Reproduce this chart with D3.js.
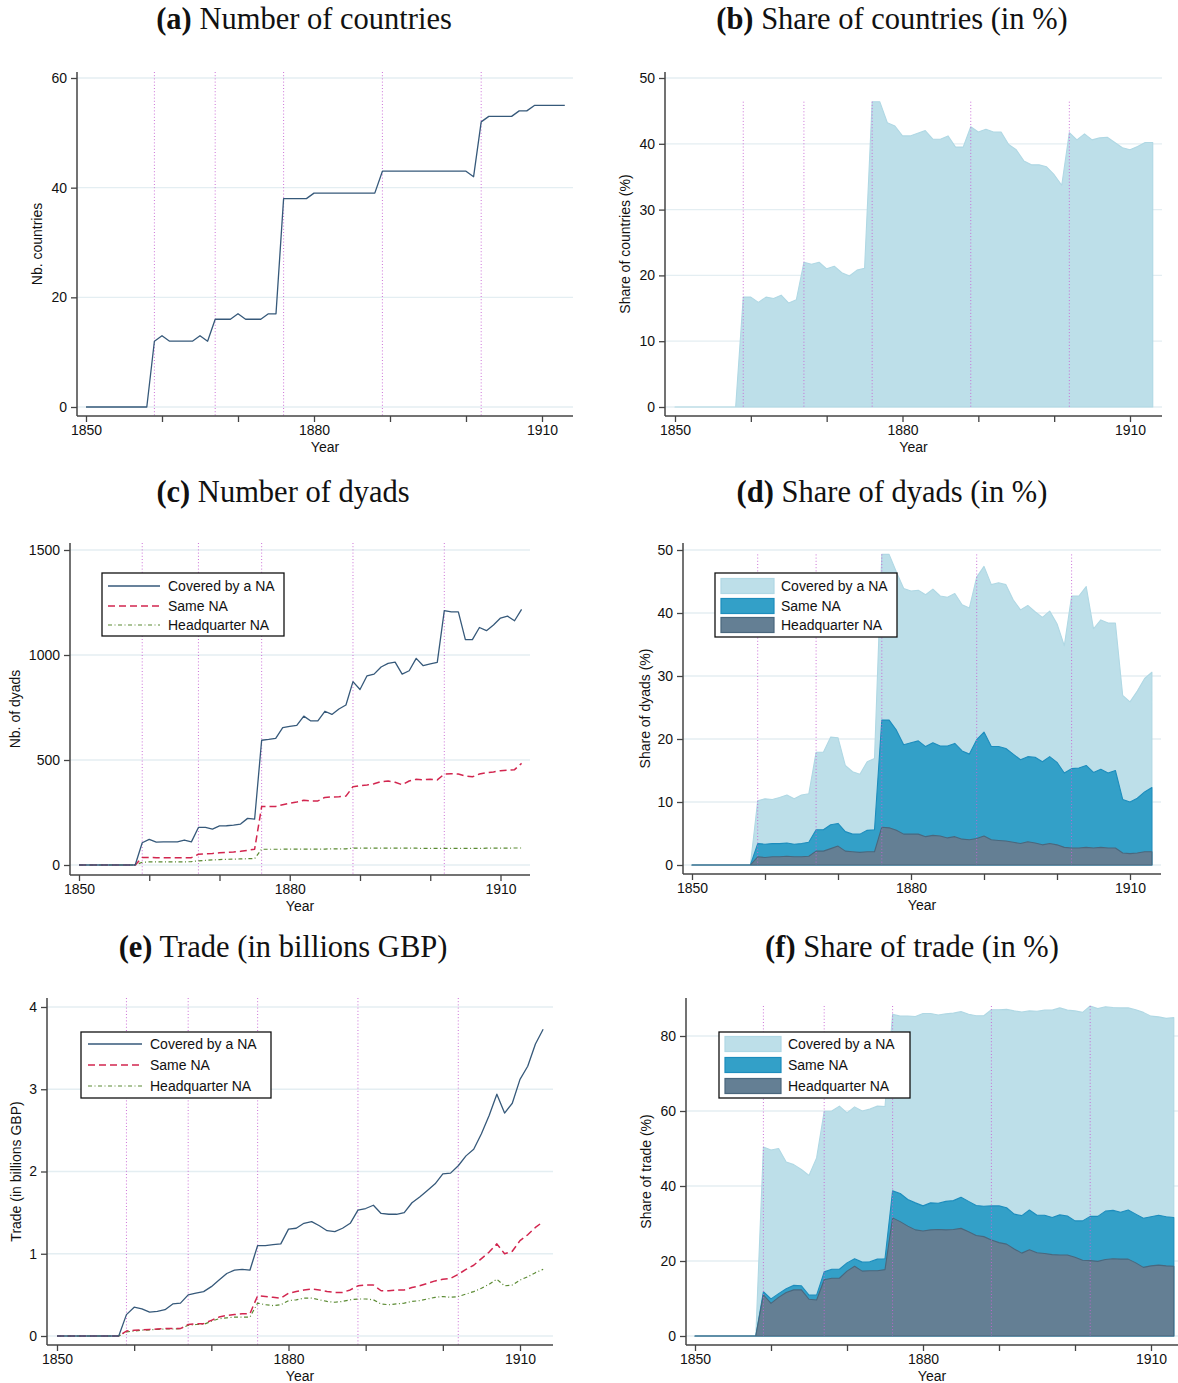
<!DOCTYPE html>
<html><head><meta charset="utf-8">
<script src="https://cdn.jsdelivr.net/npm/d3@7"></script>
<style>body{margin:0;background:#fff} svg{display:block}</style>
</head><body>
<svg id="chart" width="1178" height="1383"></svg>
<script>
// ---------------- DATA ----------------
const years = [1850,1851,1852,1853,1854,1855,1856,1857,1858,1859,1860,1861,1862,1863,1864,1865,1866,1867,1868,1869,1870,1871,1872,1873,1874,1875,1876,1877,1878,1879,1880,1881,1882,1883,1884,1885,1886,1887,1888,1889,1890,1891,1892,1893,1894,1895,1896,1897,1898,1899,1900,1901,1902,1903,1904,1905,1906,1907,1908,1909,1910,1911,1912,1913];
const eventYears = [1859, 1867, 1876, 1889, 1902];
const xTickYears = [1850, 1860, 1870, 1880, 1890, 1900, 1910];
const xTickLabels = [1850, 1880, 1910];
const seriesNames = ["Covered by a NA", "Same NA", "Headquarter NA"];

// (a) Number of countries
const nbCountries = [0,0,0,0,0,0,0,0,0, 12,13,12,12,12,12,13,12, 16,16,16,17,16,16,16,17,17, 38,38,38,38, 39,39,39,39,39,39,39,39,39, 43,43,43,43,43,43,43,43,43,43,43,43, 42, 52, 53,53,53,53, 54,54, 55,55,55,55,55];
// (b) Share of countries (%)
const shareCountries = [0,0,0,0,0,0,0,0,0, 16.7,16.7,15.9,16.7,16.5,17.0,15.8,16.3, 22.0,21.7,22.0,21.0,21.4,20.4,19.9,20.8,21.1, 46.4,46.4,43.2,42.7,41.2,41.2,41.6,42.0,40.7,40.7,41.2,39.5,39.5, 42.6,41.8,42.2,41.8,41.8,39.9,39.1,37.4,36.8,36.8,36.5,35.3,33.7, 41.7,40.6,41.5,40.6,40.9,41.0,40.2,39.4,39.1,39.6,40.2,40.2];
// (c) Number of dyads
const dyadsCovered = [0,0,0,0,0,0,0,0,0, 106,122,109,110,110,110,119,110, 179,179,171,186,187,190,195,222,218, 594,598,603,654,660,665,709,686,686,732,717,743,762, 873,836,901,909,943,960,966,909,925,984,949,958,965, 1211,1205,1205,1073,1073,1131,1116,1143,1176,1185,1163,1217];
const dyadsSame = [0,0,0,0,0,0,0,0,0, 36,36,35,35,35,35,35,35, 51,53,55,58,60,62,65,70,75, 278,278,279,287,294,300,308,305,305,322,324,325,328, 373,378,381,387,397,400,394,382,400,408,406,408,405, 433,435,433,424,420,433,440,443,449,452,454,484];
const dyadsHQ = [0,0,0,0,0,0,0,0,0, 13,15,15,15,15,15,15,16, 20,22,24,26,27,28,29,30,30, 75,75,75,75,76,76,76,76,76,76,77,77,77, 80,80,80,80,80,80,80,80,80,80,79,79,79, 79,79,79,79,79,79,80,80,80,80,81,81];
// (d) Share of dyads (%)
const shareDyadsCovered = [0,0,0,0,0,0,0,0,0, 10.2,10.5,10.4,10.7,11.1,10.5,11.1,11.3, 17.9,17.9,20.3,20.2,15.8,14.8,14.4,16.4,16.9, 49.3,49.3,46.5,43.9,43.5,43.6,42.9,43.8,42.7,42.5,43.1,41.3,40.8, 45.7,47.4,44.5,44.8,44.5,42.1,40.5,41.2,40.2,39.3,40.3,38.3,34.8, 42.7,42.7,44.2,37.5,38.9,38.4,38.4,26.9,25.9,27.6,29.6,30.6];
const shareDyadsSame = [0,0,0,0,0,0,0,0,0, 3.4,3.3,3.4,3.4,3.5,3.3,3.4,3.6, 5.6,5.6,6.4,6.6,5.3,4.9,4.9,5.5,5.6, 23.0,23.0,21.4,19.1,19.4,19.7,18.8,19.4,18.9,18.9,19.3,18.1,17.6, 19.9,21.1,18.8,18.8,18.5,17.6,16.7,17.2,17.1,16.4,17.2,16.3,14.6, 15.3,15.4,15.8,14.7,15.2,14.6,15.0,10.4,10.0,10.6,11.6,12.3];
const shareDyadsHQ = [0,0,0,0,0,0,0,0,0, 1.3,1.2,1.3,1.3,1.4,1.3,1.3,1.4, 2.2,2.2,2.6,3.0,2.2,2.1,2.0,2.1,2.1, 6.0,5.9,5.5,4.9,4.9,4.9,4.5,4.7,4.6,4.3,4.5,4.1,4.0, 4.2,4.6,4.0,3.9,3.8,3.6,3.4,3.7,3.5,3.2,3.4,3.2,2.8, 2.7,2.7,2.8,2.7,2.8,2.7,2.7,1.9,1.8,1.9,2.1,2.1];
// (e) Trade (billions GBP)
const tradeCovered = [0,0,0,0,0,0,0,0,0, 0.26,0.35,0.33,0.29,0.30,0.32,0.39,0.40, 0.50,0.52,0.54,0.60,0.68,0.76,0.80,0.81,0.80, 1.10,1.10,1.11,1.12,1.30,1.31,1.37,1.39,1.34,1.28,1.27,1.31,1.37, 1.53,1.55,1.59,1.49,1.48,1.48,1.50,1.62,1.69,1.77,1.85,1.97,1.98, 2.07,2.19,2.27,2.46,2.68,2.94,2.71,2.83,3.12,3.28,3.55,3.73];
const tradeSame = [0,0,0,0,0,0,0,0,0, 0.06,0.07,0.075,0.08,0.085,0.09,0.09,0.09, 0.14,0.15,0.15,0.19,0.23,0.25,0.26,0.27,0.27, 0.49,0.48,0.47,0.46,0.52,0.54,0.56,0.57,0.56,0.54,0.53,0.53,0.56, 0.61,0.62,0.62,0.55,0.55,0.56,0.56,0.59,0.61,0.64,0.67,0.69,0.70, 0.75,0.81,0.86,0.94,1.02,1.12,1.00,1.03,1.16,1.23,1.32,1.39];
const tradeHQ = [0,0,0,0,0,0,0,0,0, 0.05,0.06,0.07,0.075,0.08,0.085,0.085,0.09, 0.13,0.14,0.14,0.18,0.21,0.22,0.23,0.23,0.23, 0.40,0.38,0.37,0.38,0.43,0.44,0.46,0.46,0.44,0.42,0.41,0.42,0.44, 0.45,0.45,0.44,0.39,0.38,0.39,0.40,0.42,0.43,0.45,0.47,0.48,0.47, 0.48,0.51,0.54,0.58,0.63,0.69,0.61,0.62,0.68,0.72,0.77,0.81];
// (f) Share of trade (%)
const shareTradeCovered = [0,0,0,0,0,0,0,0,0, 50.4,49.6,50.0,46.4,45.7,44.4,42.8,47.5, 59.9,60.0,61.3,59.5,61.1,60.0,60.5,61.3,61.2, 85.8,85.3,85.3,85.2,86.0,86.0,85.6,85.9,86.1,86.5,85.8,85.4,85.4, 87.0,87.0,87.1,86.7,86.4,86.7,86.6,86.9,86.9,87.5,86.9,86.7,86.3, 88.0,87.3,87.8,87.6,87.5,87.5,87.0,86.3,85.3,85.1,84.7,84.9];
const shareTradeSame = [0,0,0,0,0,0,0,0,0, 11.8,9.9,11.3,12.6,13.5,13.4,10.9,10.9, 17.1,17.8,17.8,19.5,20.6,19.7,19.8,20.5,20.6, 38.7,38.0,36.4,35.5,34.7,35.5,35.4,35.9,36.1,37.0,35.9,34.8,34.6, 34.7,34.7,34.2,32.5,32.1,33.6,32.2,32.2,31.6,32.3,32.0,30.7,30.7, 31.9,31.9,33.3,33.5,33.0,33.6,32.5,31.4,31.8,32.2,31.8,31.6];
const shareTradeHQ = [0,0,0,0,0,0,0,0,0, 11.0,8.7,10.3,11.6,12.3,12.3,9.8,9.6, 15.0,15.4,15.4,17.3,18.6,17.3,17.4,17.4,17.7, 31.5,30.5,29.3,28.3,28.0,28.3,28.4,28.3,28.4,28.7,27.8,26.8,26.5, 25.6,24.9,24.5,23.2,22.1,23.0,22.2,22.0,21.7,21.6,21.6,21.0,20.2, 20.1,19.9,20.4,20.6,20.5,20.5,19.5,18.3,18.7,18.9,18.7,18.6];

// ---------------- STYLES ----------------
const SANS = "'Liberation Sans', Arial, Helvetica, sans-serif";
const SERIF = "'Liberation Serif', 'Times New Roman', serif";
const lineStyles = [
  {stroke: "#36597a", width: 1.3, dash: null},
  {stroke: "#d2264f", width: 1.5, dash: "7,4"},
  {stroke: "#5a8a32", width: 1.2, dash: "4,2.5,1,2.5"}
];
const areaStyles = [
  {fill: "#bddfe9", stroke: "#b0d8e4"},
  {fill: "#33a0c8", stroke: "#1d8dbd"},
  {fill: "#647f94", stroke: "#4a677d"}
];

const panels = [
  {title: ["(a)", " Number of countries"], tx: 304, ty: 29,
   box: {l: 77, r: 573, t: 72, b: 416}, xr: [86, 542], ydom: [0, 60], yr: [407, 78], yticks: [0, 20, 40, 60],
   ylabel: "Nb. countries", ylx: 37, type: "line", series: [nbCountries], legend: null},
  {title: ["(b)", " Share of countries (in %)"], tx: 892, ty: 29,
   box: {l: 665, r: 1162, t: 72, b: 416}, xr: [675, 1130], ydom: [0, 50], yr: [407, 78], yticks: [0, 10, 20, 30, 40, 50],
   ylabel: "Share of countries (%)", ylx: 625, type: "area", series: [shareCountries], legend: null},
  {title: ["(c)", " Number of dyads"], tx: 283, ty: 502,
   box: {l: 70, r: 530, t: 543, b: 875}, xr: [79, 500.5], ydom: [0, 1500], yr: [865, 550], yticks: [0, 500, 1000, 1500],
   ylabel: "Nb. of dyads", ylx: 15, type: "line", series: [dyadsCovered, dyadsSame, dyadsHQ],
   legend: {x: 102, y: 573, w: 182, h: 63, rows: [586, 606, 625], sx: 108, sw: 52, tx: 168}},
  {title: ["(d)", " Share of dyads (in %)"], tx: 892, ty: 502,
   box: {l: 683, r: 1161, t: 543, b: 874}, xr: [692, 1130], ydom: [0, 50], yr: [865, 550], yticks: [0, 10, 20, 30, 40, 50],
   ylabel: "Share of dyads (%)", ylx: 645, type: "area", series: [shareDyadsCovered, shareDyadsSame, shareDyadsHQ],
   legend: {x: 715, y: 573, w: 182, h: 64, rows: [586, 606, 625], sx: 721, sw: 53, tx: 781}},
  {title: ["(e)", " Trade (in billions GBP)"], tx: 283, ty: 957,
   box: {l: 47, r: 553, t: 998, b: 1345}, xr: [57, 520], ydom: [0, 4], yr: [1336, 1007], yticks: [0, 1, 2, 3, 4],
   ylabel: "Trade (in billions GBP)", ylx: 16, type: "line", series: [tradeCovered, tradeSame, tradeHQ],
   legend: {x: 81, y: 1032, w: 190, h: 66, rows: [1044, 1065, 1086], sx: 88, sw: 54, tx: 150}},
  {title: ["(f)", " Share of trade (in %)"], tx: 912, ty: 957,
   box: {l: 686, r: 1178, t: 998, b: 1345}, xr: [695, 1151], ydom: [0, 80], yr: [1336, 1036], yticks: [0, 20, 40, 60, 80],
   ylabel: "Share of trade (%)", ylx: 646, type: "area", series: [shareTradeCovered, shareTradeSame, shareTradeHQ],
   legend: {x: 719, y: 1032, w: 191, h: 66, rows: [1044, 1065, 1086], sx: 725, sw: 56, tx: 788}}
];

const svg = d3.select("#chart");
svg.append("rect").attr("width", 1178).attr("height", 1383).attr("fill", "#fff");

function drawPanel(p) {
  const g = svg.append("g");
  const x = d3.scaleLinear().domain([1850, 1910]).range(p.xr);
  const y = d3.scaleLinear().domain(p.ydom).range(p.yr);

  // title
  const t = g.append("text").attr("x", p.tx).attr("y", p.ty).attr("text-anchor", "middle")
    .attr("font-family", SERIF).attr("font-size", 30.5).attr("fill", "#111");
  t.append("tspan").attr("font-weight", "bold").text(p.title[0]);
  t.append("tspan").text(p.title[1]);

  // grid
  g.append("g").selectAll("line").data(p.yticks).join("line")
    .attr("x1", p.box.l).attr("x2", p.box.r)
    .attr("y1", d => y(d)).attr("y2", d => y(d))
    .attr("stroke", "#e4eef2").attr("stroke-width", 1.3);

  const pts = years.map((yr, i) => i);
  if (p.type === "area") {
    p.series.forEach((vals, si) => {
      const area = d3.area().x(i => x(years[i])).y0(y(0)).y1(i => y(vals[i]));
      g.append("path").datum(pts).attr("d", area)
        .attr("fill", areaStyles[si].fill).attr("stroke", areaStyles[si].stroke).attr("stroke-width", 1.1)
        .attr("stroke-linejoin", "round");
    });
  }

  // event lines
  const vTop = p.type === "area" ? y(d3.max(p.series[0])) : p.box.t;
  const vBot = p.type === "area" ? y(0) : p.box.b;
  g.append("g").selectAll("line").data(eventYears).join("line")
    .attr("x1", d => x(d)).attr("x2", d => x(d)).attr("y1", vTop).attr("y2", vBot)
    .attr("stroke", "#c864d4").attr("stroke-width", 1).attr("stroke-dasharray", "1,2.2").attr("opacity", 0.9);

  if (p.type === "line") {
    p.series.slice().reverse().forEach((vals, ri) => {
      const si = p.series.length - 1 - ri;
      const line = d3.line().x(i => x(years[i])).y(i => y(vals[i]));
      const st = lineStyles[si];
      g.append("path").datum(pts).attr("d", line).attr("fill", "none")
        .attr("stroke", st.stroke).attr("stroke-width", st.width)
        .attr("stroke-dasharray", st.dash).attr("stroke-linejoin", "round");
    });
  }

  // axes
  const yAxis = d3.axisLeft(y).tickValues(p.yticks).tickSize(6).tickPadding(4).tickFormat(d3.format("d"));
  const ya = g.append("g").attr("transform", `translate(${p.box.l},0)`).call(yAxis);
  ya.select(".domain").remove();
  ya.selectAll(".tick line").attr("stroke", "#444").attr("stroke-width", 1.3);
  ya.selectAll(".tick text").attr("font-family", SANS).attr("font-size", 14).attr("fill", "#111");
  g.append("line").attr("x1", p.box.l).attr("x2", p.box.l).attr("y1", p.box.t).attr("y2", p.box.b)
    .attr("stroke", "#444").attr("stroke-width", 1.5);

  const xAxis = d3.axisBottom(x).tickValues(xTickYears).tickSize(6).tickPadding(3)
    .tickFormat(d => xTickLabels.includes(d) ? String(d) : "");
  const xa = g.append("g").attr("transform", `translate(0,${p.box.b})`).call(xAxis);
  xa.select(".domain").remove();
  xa.selectAll(".tick line").attr("stroke", "#444").attr("stroke-width", 1.3);
  xa.selectAll(".tick text").attr("font-family", SANS).attr("font-size", 14).attr("fill", "#111");
  g.append("line").attr("x1", p.box.l).attr("x2", p.box.r).attr("y1", p.box.b).attr("y2", p.box.b)
    .attr("stroke", "#444").attr("stroke-width", 1.5);

  // axis titles
  g.append("text").attr("x", (p.box.l + p.box.r) / 2).attr("y", p.box.b + 36)
    .attr("text-anchor", "middle").attr("font-family", SANS).attr("font-size", 14).attr("fill", "#111").text("Year");
  const cy = (p.box.t + p.box.b) / 2;
  g.append("text").attr("transform", `translate(${p.ylx},${cy}) rotate(-90)`).attr("dy", "0.35em")
    .attr("text-anchor", "middle").attr("font-family", SANS).attr("font-size", 14).attr("fill", "#111").text(p.ylabel);

  // legend
  if (p.legend) {
    const L = p.legend;
    const lg = g.append("g");
    lg.append("rect").attr("x", L.x).attr("y", L.y).attr("width", L.w).attr("height", L.h)
      .attr("fill", "#fff").attr("stroke", "#111").attr("stroke-width", 1.3);
    seriesNames.forEach((name, si) => {
      const ry = L.rows[si];
      if (p.type === "line") {
        const st = lineStyles[si];
        lg.append("line").attr("x1", L.sx).attr("x2", L.sx + L.sw).attr("y1", ry).attr("y2", ry)
          .attr("stroke", st.stroke).attr("stroke-width", st.width).attr("stroke-dasharray", st.dash);
      } else {
        const st = areaStyles[si];
        lg.append("rect").attr("x", L.sx).attr("y", ry - 7.5).attr("width", L.sw).attr("height", 15)
          .attr("fill", st.fill).attr("stroke", st.stroke).attr("stroke-width", 1.2);
      }
      lg.append("text").attr("x", L.tx).attr("y", ry).attr("dy", "0.35em")
        .attr("font-family", SANS).attr("font-size", 14).attr("fill", "#111").text(name);
    });
  }
}

panels.forEach(drawPanel);
</script>
</body></html>
